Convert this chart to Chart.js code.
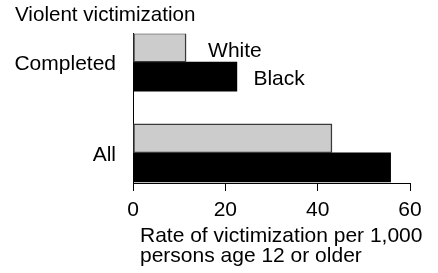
<!DOCTYPE html>
<html>
<head>
<meta charset="utf-8">
<script src="https://cdn.jsdelivr.net/npm/chart.js@4/dist/chart.umd.min.js"></script>
<style>
  html, body { margin: 0; padding: 0; background: #fff; }
  #wrap { width: 438px; height: 273px; }
</style>
</head>
<body>
<div id="wrap"><canvas id="myChart" width="438" height="273"></canvas></div>
<script>
var categories = ['Completed', 'All'];
var white = [11.5, 43.1];
var black = [22.5, 55.8];
var xTicks = [0, 20, 40, 60];
var seriesNames = ['White', 'Black'];
var xTitle = ['Rate of victimization per 1,000', 'persons age 12 or older'];

var FONT = "'Liberation Sans', Arial, sans-serif";

// labels "White" / "Black" next to the first group, plus the x axis title
var annot = {
    id: 'annot',
    afterDraw: function (chart) {
        var ctx = chart.ctx;
        ctx.save();
        ctx.font = '21px ' + FONT;
        ctx.fillStyle = '#000';
        ctx.textBaseline = 'middle';
        ctx.textAlign = 'left';
        var offs = [22, 16.5];
        var dy = [3.5, 2.5];
        for (var d = 0; d < 2; d++) {
            var bar = chart.getDatasetMeta(d).data[0];
            ctx.fillText(seriesNames[d], bar.x + offs[d], bar.y + dy[d]);
        }
        var left = chart.scales.x.left + 7;
        ctx.fillText(xTitle[0], left, 236);
        ctx.fillText(xTitle[1], left, 256);
        ctx.restore();
    }
};

var cvas = document.getElementById('myChart').getContext('2d');
var myChart = new Chart(cvas, {
    type: 'bar',
    data: {
        datasets: [{
            label: seriesNames[0],
            data: white.map(function (v, i) { return { x: v, y: i }; }),
            backgroundColor: '#cccccc',
            borderColor: '#3a3a3a',
            borderWidth: 1.5,
            borderSkipped: false,
            barThickness: 29
        },
        {
            label: seriesNames[1],
            data: black.map(function (v, i) { return { x: v, y: i }; }),
            backgroundColor: '#000000',
            borderWidth: 0,
            barThickness: 29
        }]
    },
    plugins: [annot],
    options: {
        indexAxis: 'y',
        responsive: false,
        animation: false,
        layout: { padding: { left: 15, right: 28, top: 0, bottom: 0 } },
        plugins: {
            legend: { display: false },
            tooltip: { enabled: false },
            title: {
                display: true,
                text: 'Violent victimization',
                align: 'start',
                color: '#000',
                font: { family: FONT, size: 20.6, weight: 'normal', lineHeight: 1.2 },
                padding: { top: 3, bottom: 6 }
            }
        },
        scales: {
            x: {
                type: 'linear',
                min: 0,
                max: 60,
                afterBuildTicks: function (s) {
                    s.ticks = xTicks.map(function (v) { return { value: v }; });
                },
                afterFit: function (s) { s.height = 90; },
                grid: {
                    display: true,
                    drawOnChartArea: false,
                    drawTicks: true,
                    tickLength: 8,
                    color: '#000'
                },
                border: { display: true, color: '#000', width: 1 },
                ticks: {
                    color: '#000',
                    padding: 7,
                    maxRotation: 0,
                    font: { family: FONT, size: 21 }
                }
            },
            y: {
                type: 'linear',
                reverse: true,
                offset: false,
                min: -0.314,
                max: 1.333,
                afterBuildTicks: function (s) {
                    s.ticks = categories.map(function (c, i) { return { value: i }; });
                },
                afterFit: function (s) { s.width = 118; },
                grid: { display: false, drawTicks: false },
                border: { display: true, color: '#000', width: 1 },
                ticks: {
                    color: '#000',
                    padding: 17,
                    labelOffset: 2,
                    font: { family: FONT, size: 21 },
                    callback: function (v) { return categories[v]; }
                }
            }
        }
    }
});
</script>
</body>
</html>
